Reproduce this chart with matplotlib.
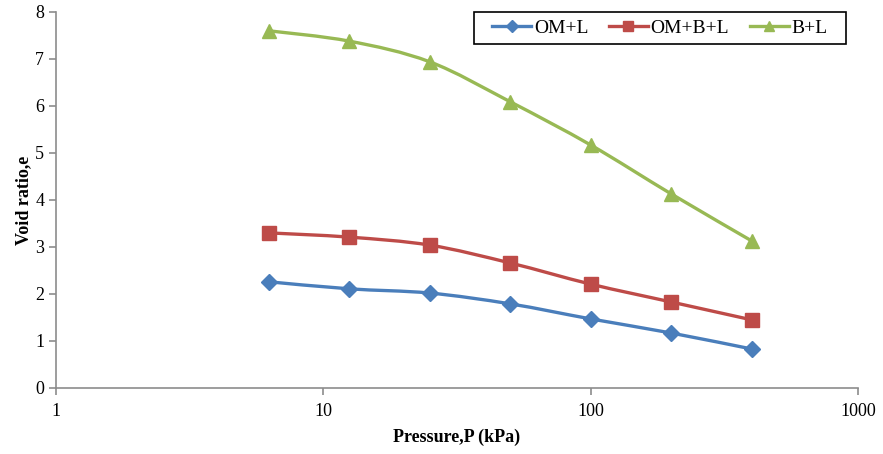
import numpy as np
import matplotlib
matplotlib.use('Agg')
import matplotlib.pyplot as plt
from matplotlib.path import Path
from matplotlib.patches import PathPatch, Rectangle
from matplotlib.lines import Line2D

plt.rcParams['font.family'] = ['Liberation Serif', 'DejaVu Serif']

pressure = [6.25, 12.5, 25, 50, 100, 200, 400]
om_l = [2.26, 2.11, 2.02, 1.79, 1.47, 1.17, 0.83]
om_b_l = [3.30, 3.21, 3.04, 2.66, 2.21, 1.83, 1.45]
b_l = [7.60, 7.38, 6.94, 6.09, 5.17, 4.13, 3.13]

names = ['OM+L', 'OM+B+L', 'B+L']
colors = ['#4A7EBB', '#BE4B48', '#98B954']
markers = ['D', 's', '^']
msizes = [8.5, 9.5, 9.5]


def smooth_path(x, y):
    # Catmull-Rom style bezier through the points, built in log10(x) space
    pts = np.column_stack([np.log10(x), np.asarray(y, dtype=float)])
    n = len(pts)
    verts = [pts[0]]
    codes = [Path.MOVETO]
    for i in range(n - 1):
        p0 = pts[i - 1] if i > 0 else pts[i]
        p3 = pts[i + 2] if i + 2 < n else pts[i + 1]
        c1 = pts[i] + (pts[i + 1] - p0) / 6
        c2 = pts[i + 1] - (p3 - pts[i]) / 6
        verts += [c1, c2, pts[i + 1]]
        codes += [Path.CURVE4] * 3
    verts = np.array(verts)
    verts[:, 0] = 10 ** verts[:, 0]
    return Path(verts, codes)


fig = plt.figure(figsize=(8.83, 4.54), dpi=100)
ax = fig.add_axes([0.0634, 0.1454, 0.9083, 0.8282])
ax.set_xscale('log')
ax.set_xlim(1, 1000)
ax.set_ylim(0, 8)

handles = []
for vals, name, c, m, ms in zip([om_l, om_b_l, b_l], names, colors, markers, msizes):
    ax.add_patch(PathPatch(smooth_path(pressure, vals), fill=False,
                           edgecolor=c, lw=2.4, zorder=2))
    ax.plot(pressure, vals, ls='none', marker=m, ms=ms, color=c, zorder=3)
    handles.append(Line2D([], [], color=c, lw=2.4, marker=m, ms=ms * 0.75, label=name))

for s in ['top', 'right']:
    ax.spines[s].set_visible(False)
for s in ['left', 'bottom']:
    ax.spines[s].set_color('#8c8c8c')
    ax.spines[s].set_linewidth(1.2)

ax.set_xticks([1, 10, 100, 1000])
ax.set_xticklabels(['1', '10', '100', '1000'])
ax.xaxis.set_minor_locator(matplotlib.ticker.NullLocator())
ax.set_yticks(range(9))
ax.tick_params(axis='both', direction='out', length=5, width=1.2,
               color='#8c8c8c', labelsize=13)
ax.tick_params(axis='x', pad=6)

ax.set_xlabel('Pressure,P (kPa)', fontsize=13, fontweight='bold', labelpad=6)
ax.set_ylabel('Void ratio,e', fontsize=13, fontweight='bold', labelpad=2)

# legend box: wider side padding than matplotlib's uniform borderpad allows
box = Rectangle((0.521, 0.915), 0.464, 0.085, transform=ax.transAxes,
                facecolor='white', edgecolor='black', lw=1.2,
                clip_on=False, zorder=4)
ax.add_patch(box)
leg = ax.legend(handles=handles, loc='center', ncol=3, fontsize=14,
                frameon=False, bbox_to_anchor=(0.753, 0.9575),
                borderaxespad=0, borderpad=0, handlelength=2.0,
                columnspacing=1.05, handletextpad=0.15)
leg.set_zorder(5)

fig.savefig('out.png', dpi=100)
